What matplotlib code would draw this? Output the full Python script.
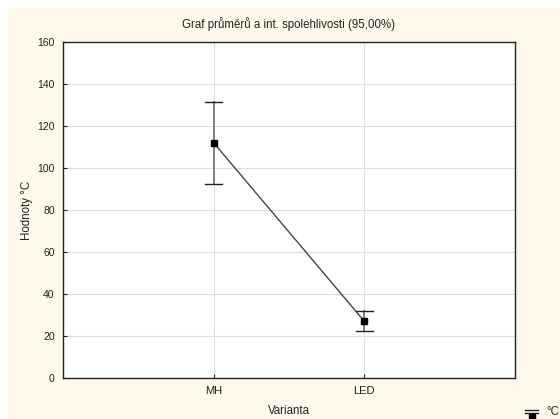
import matplotlib
matplotlib.use("Agg")
import matplotlib.pyplot as plt
from matplotlib.lines import Line2D
from matplotlib.patches import Rectangle

plt.rcParams['font.family'] = ['Liberation Sans', 'DejaVu Sans']

categories = ["MH", "LED"]
means = [112.0, 27.0]
ci_low = [92.5, 22.5]
ci_high = [131.5, 32.0]
y_ticks = [0, 20, 40, 60, 80, 100, 120, 140, 160]

W, H = 560, 419
bg = "#FFF9EC"
fig = plt.figure(figsize=(W / 100, H / 100), dpi=100, facecolor="white")
# cream panel with a thin white margin at top and left
fig.patches.append(Rectangle((8 / W, 0), 1 - 8 / W, 1 - 8 / H, transform=fig.transFigure,
                             facecolor=bg, edgecolor="none", zorder=-10))

ax = fig.add_axes([63 / W, 1 - 378 / H, (515 - 63) / W, (378 - 42) / H])
ax.set_facecolor("white")

x = [1, 2]
# confidence interval whiskers
for xi, lo, hi in zip(x, ci_low, ci_high):
    ax.plot([xi, xi], [lo, hi], color="#808080", lw=1.4, zorder=3)
    for yv in (lo, hi):
        ax.plot([xi - 0.055, xi + 0.055], [yv, yv], color="#222222", lw=1.0, zorder=3)

ax.plot(x, means, color="#444444", lw=1.0, zorder=4)
ax.plot(x, means, ls="none", marker="s", ms=5, color="black", zorder=5)

ax.set_xlim(0, 3)
ax.set_ylim(0, 160)
ax.set_xticks(x)
ax.set_xticklabels(categories)
ax.set_yticks(y_ticks)
ax.grid(True, color="#dddddd", lw=0.8)
ax.set_axisbelow(True)
ax.tick_params(direction="in", length=3, labelsize=7.5, colors="#222222", pad=6)
ax.tick_params(axis="x", labelsize=8)
for s in ax.spines.values():
    s.set_color("#222222")
    s.set_linewidth(1.0)

ax.set_title("Graf průměrů a int. spolehlivosti (95,00%)", fontsize=8.3, pad=10, color="#222222")
ax.set_xlabel("Varianta", fontsize=8.3, labelpad=6, color="#222222")
ax.set_ylabel("Hodnoty °C", fontsize=8.3, labelpad=3, color="#222222")

# legend key in the lower right corner
fx = lambda px: px / W
fy = lambda py: 1 - py / H
for py in (409.5, 413.0):
    fig.add_artist(Line2D([fx(525), fx(538)], [fy(py), fy(py)], color="#222222", lw=1.0))
fig.add_artist(Line2D([fx(531.5)], [fy(416.5)], marker="s", ms=5, color="black", ls="none"))
fig.text(fx(546), fy(412), "°C", fontsize=8.3, color="#222222", va="center", ha="left")

fig.savefig("out.png", dpi=100, facecolor="white")
